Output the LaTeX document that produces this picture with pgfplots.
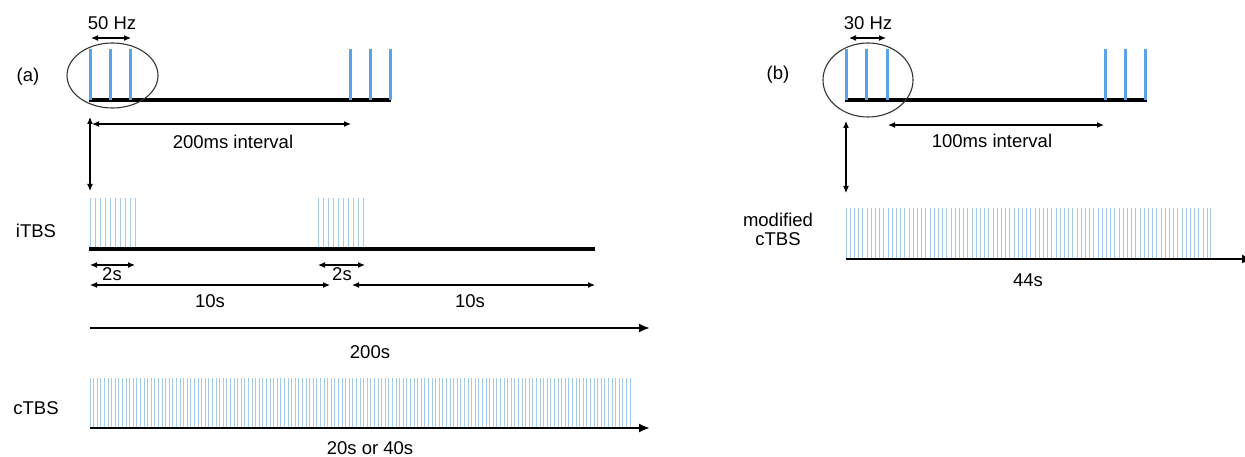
\documentclass[border=0pt]{standalone}
\usepackage{fontspec}
\setmainfont{Liberation Sans}
\usepackage{pgfplots}
\usepackage{pgfplotstable}
\pgfplotsset{compat=1.18}
\usetikzlibrary{arrows.meta}
\definecolor{spk}{HTML}{5BA3E6}
\definecolor{spkl}{HTML}{A6CBE8}
\definecolor{ell}{HTML}{333333}
\newcommand\fs{\fontsize{18.5}{21}\selectfont}

% burst / pulse positions (pixels along the time line)
\pgfplotstableread[row sep=\\]{
x\\
90\\ 95\\ 100\\ 105\\ 110\\ 115\\ 120\\ 125\\ 130\\ 135\\
318\\ 323\\ 328\\ 333\\ 338\\ 343\\ 348\\ 353\\ 358\\ 363\\
}\itbs
\pgfplotstableread[row sep=\\]{
x\\
90\\ 93.6\\ 97.2\\ 100.8\\ 104.4\\
108\\ 111.6\\ 115.2\\ 118.8\\ 122.4\\
126\\ 129.6\\ 133.2\\ 136.8\\ 140.4\\
144\\ 147.6\\ 151.2\\ 154.8\\ 158.4\\
162\\ 165.6\\ 169.2\\ 172.8\\ 176.4\\
180\\ 183.6\\ 187.2\\ 190.8\\ 194.4\\
198\\ 201.6\\ 205.2\\ 208.8\\ 212.4\\
216\\ 219.6\\ 223.2\\ 226.8\\ 230.4\\
234\\ 237.6\\ 241.2\\ 244.8\\ 248.4\\
252\\ 255.6\\ 259.2\\ 262.8\\ 266.4\\
270\\ 273.6\\ 277.2\\ 280.8\\ 284.4\\
288\\ 291.6\\ 295.2\\ 298.8\\ 302.4\\
306\\ 309.6\\ 313.2\\ 316.8\\ 320.4\\
324\\ 327.6\\ 331.2\\ 334.8\\ 338.4\\
342\\ 345.6\\ 349.2\\ 352.8\\ 356.4\\
360\\ 363.6\\ 367.2\\ 370.8\\ 374.4\\
378\\ 381.6\\ 385.2\\ 388.8\\ 392.4\\
396\\ 399.6\\ 403.2\\ 406.8\\ 410.4\\
414\\ 417.6\\ 421.2\\ 424.8\\ 428.4\\
432\\ 435.6\\ 439.2\\ 442.8\\ 446.4\\
450\\ 453.6\\ 457.2\\ 460.8\\ 464.4\\
468\\ 471.6\\ 475.2\\ 478.8\\ 482.4\\
486\\ 489.6\\ 493.2\\ 496.8\\ 500.4\\
504\\ 507.6\\ 511.2\\ 514.8\\ 518.4\\
522\\ 525.6\\ 529.2\\ 532.8\\ 536.4\\
540\\ 543.6\\ 547.2\\ 550.8\\ 554.4\\
558\\ 561.6\\ 565.2\\ 568.8\\ 572.4\\
576\\ 579.6\\ 583.2\\ 586.8\\ 590.4\\
594\\ 597.6\\ 601.2\\ 604.8\\ 608.4\\
612\\ 615.6\\ 619.2\\ 622.8\\ 626.4\\
630\\
}\ctbsraw
\pgfplotstableread[row sep=\\]{
x\\
846\\ 850.2\\ 854.4\\ 858.6\\ 862.8\\
867\\ 871.2\\ 875.4\\ 879.6\\ 883.8\\
888\\ 892.2\\ 896.4\\ 900.6\\ 904.8\\
909\\ 913.2\\ 917.4\\ 921.6\\ 925.8\\
930\\ 934.2\\ 938.4\\ 942.6\\ 946.8\\
951\\ 955.2\\ 959.4\\ 963.6\\ 967.8\\
972\\ 976.2\\ 980.4\\ 984.6\\ 988.8\\
993\\ 997.2\\ 1001.4\\ 1005.6\\ 1009.8\\
1014\\ 1018.2\\ 1022.4\\ 1026.6\\ 1030.8\\
1035\\ 1039.2\\ 1043.4\\ 1047.6\\ 1051.8\\
1056\\ 1060.2\\ 1064.4\\ 1068.6\\ 1072.8\\
1077\\ 1081.2\\ 1085.4\\ 1089.6\\ 1093.8\\
1098\\ 1102.2\\ 1106.4\\ 1110.6\\ 1114.8\\
1119\\ 1123.2\\ 1127.4\\ 1131.6\\ 1135.8\\
1140\\ 1144.2\\ 1148.4\\ 1152.6\\ 1156.8\\
1161\\ 1165.2\\ 1169.4\\ 1173.6\\ 1177.8\\
1182\\ 1186.2\\ 1190.4\\ 1194.6\\ 1198.8\\
1203\\ 1207.2\\ 1210\\
}\mctbsraw

\begin{document}
\begin{tikzpicture}
\path[use as bounding box] (0,0) rectangle (1245pt,457pt);
\begin{axis}[
  at={(0,0)}, anchor=south west,
  width=1245pt, height=457pt, scale only axis,
  xmin=0, xmax=1245, ymin=0, ymax=457, y dir=reverse,
  hide axis, clip=true,
  spikes/.style={draw=none, mark=none, forget plot, error bars/y dir=both, error bars/error mark=none},
]
% ---------- (a) top: theta burst ----------
\addplot[black, line width=4pt] coordinates {(89,100) (391,100)};
\addplot[spikes, error bars/y fixed=25.5, error bars/error bar style={draw=spk, line width=3pt}]
  coordinates {(90,74.5) (110,74.5) (130,74.5) (350,74.5) (370,74.5) (390,74.5)};
\addplot[black, line width=1.1pt, {Latex[length=7pt,width=6pt]}-{Latex[length=7pt,width=6pt]}] coordinates {(91,38) (131,38)};
\addplot[black, line width=1.1pt, {Latex[length=7pt,width=6pt]}-{Latex[length=7pt,width=6pt]}] coordinates {(92,124) (351,124)};
\addplot[black, line width=1.1pt, {Latex[length=7pt,width=6pt]}-{Latex[length=7pt,width=6pt]}] coordinates {(90,117) (90,191)};
\draw[ell, line width=1.1pt] (axis cs:112.5,75.5) ellipse [x radius=45.5pt, y radius=32.5pt];
\node[font=\fs] at (axis cs:112,23) {50 Hz};
\node[font=\fs] at (axis cs:28,77) {(a)};
\node[font=\fs] at (axis cs:233,142) {200ms interval};

% ---------- (a) iTBS ----------
\addplot[spikes, error bars/y fixed=25.5, error bars/error bar style={draw=spkl, line width=1pt}]
  table[x index=0, y index=0, y expr=223.5] {\itbs};
\addplot[black, line width=4pt] coordinates {(89,249) (595,249)};
\addplot[black, line width=1.1pt, {Latex[length=7pt,width=6pt]}-{Latex[length=7pt,width=6pt]}] coordinates {(90,265) (135,265)};
\addplot[black, line width=1.1pt, {Latex[length=7pt,width=6pt]}-{Latex[length=7pt,width=6pt]}] coordinates {(318,265) (365,265)};
\addplot[black, line width=1.1pt, {Latex[length=7pt,width=6pt]}-{Latex[length=7pt,width=6pt]}] coordinates {(90,285) (330,285)};
\addplot[black, line width=1.1pt, {Latex[length=7pt,width=6pt]}-{Latex[length=7pt,width=6pt]}] coordinates {(352,285) (595,285)};
\node[font=\fs] at (axis cs:36,231) {iTBS};
\node[font=\fs] at (axis cs:112,274) {2s};
\node[font=\fs] at (axis cs:342,274) {2s};
\node[font=\fs] at (axis cs:210,301) {10s};
\node[font=\fs] at (axis cs:470,301) {10s};

% ---------- (a) 200s ----------
\addplot[black, line width=2pt, -{Latex[length=11pt,width=9pt]}] coordinates {(90,328) (650,328)};
\node[font=\fs] at (axis cs:370,352) {200s};

% ---------- (a) cTBS ----------
\addplot[spikes, error bars/y fixed=25, error bars/error bar style={draw=spkl, line width=1pt}]
  table[x index=0, y index=0, y expr=403] {\ctbsraw};
\addplot[black, line width=2pt, -{Latex[length=11pt,width=9pt]}] coordinates {(90,428) (650,428)};
\node[font=\fs] at (axis cs:36,408) {cTBS};
\node[font=\fs] at (axis cs:370,448) {20s or 40s};

% ---------- (b) top ----------
\addplot[black, line width=4pt] coordinates {(845,100) (1147,100)};
\addplot[spikes, error bars/y fixed=25.5, error bars/error bar style={draw=spk, line width=3pt}]
  coordinates {(846,74.5) (866,74.5) (887,74.5) (1105,74.5) (1125,74.5) (1145,74.5)};
\addplot[black, line width=1.1pt, {Latex[length=7pt,width=6pt]}-{Latex[length=7pt,width=6pt]}] coordinates {(849,38) (886,38)};
\addplot[black, line width=1.1pt, {Latex[length=7pt,width=6pt]}-{Latex[length=7pt,width=6pt]}] coordinates {(888,125) (1104,125)};
\addplot[black, line width=1.1pt, {Latex[length=7pt,width=6pt]}-{Latex[length=7pt,width=6pt]}] coordinates {(846,121) (846,193)};
\draw[ell, line width=1.1pt] (axis cs:868,80) ellipse [x radius=45pt, y radius=37pt];
\node[font=\fs] at (axis cs:868,23) {30 Hz};
\node[font=\fs] at (axis cs:778,75) {(b)};
\node[font=\fs] at (axis cs:992,141) {100ms interval};

% ---------- (b) modified cTBS ----------
\addplot[spikes, error bars/y fixed=25.5, error bars/error bar style={draw=spkl, line width=1pt}]
  table[x index=0, y index=0, y expr=233.5] {\mctbsraw};
\addplot[black, line width=2pt, -{Latex[length=11pt,width=9pt]}] coordinates {(846,259) (1253,259)};
\node[font=\fs, align=center] at (axis cs:778,229) {modified\\[-2pt]cTBS};
\node[font=\fs] at (axis cs:1028,280) {44s};
\end{axis}
\end{tikzpicture}
\end{document}
